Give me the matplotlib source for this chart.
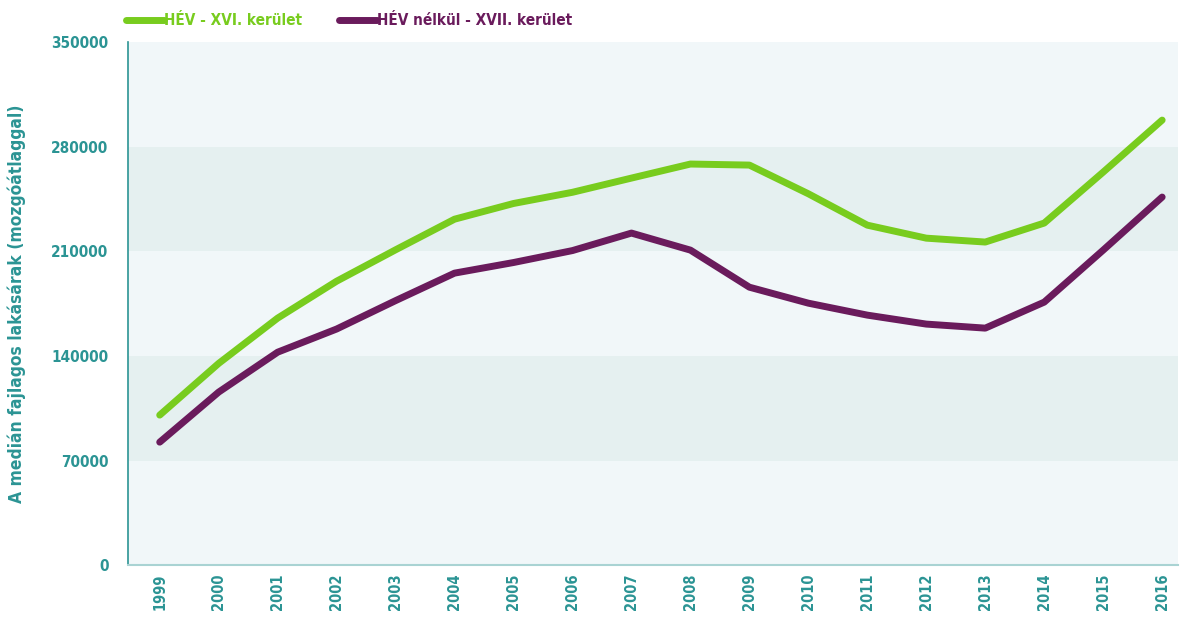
import matplotlib
matplotlib.use("Agg")
import matplotlib.pyplot as plt
from matplotlib import font_manager

years = list(range(1999, 2017))
hev_xvi = [100400, 135000, 165300, 190000, 211000, 231500, 242000, 249500, 259000,
           268400, 267700, 248500, 227500, 218800, 216200, 228900, 263000, 297800]
nohev_xvii = [82300, 115800, 142500, 158000, 177000, 195400, 202500, 210500, 222200,
              210800, 186000, 175300, 167300, 161300, 158600, 176000, 210800, 246300]
series_labels = ["HÉV - XVI. kerület", "HÉV nélkül - XVII. kerület"]
y_ticks = [0, 70000, 140000, 210000, 280000, 350000]

GREEN = "#78cc1e"
PURPLE = "#6a1b5c"
TEAL = "#2b9494"

# narrow bold face for all text
fp = font_manager.FontProperties(family="DejaVu Sans", stretch="condensed", weight="bold")
font_file = font_manager.findfont(fp)


def font(size):
    return font_manager.FontProperties(fname=font_file, size=size)


fig = plt.figure(figsize=(11.84, 6.19), dpi=100)
ax = fig.add_axes([0.108, 0.087, 0.887, 0.845])
ax.set_facecolor("#f1f7f9")

# shaded horizontal bands
for lo, hi in [(70000, 140000), (210000, 280000)]:
    ax.axhspan(lo, hi, color="#e5f0f0", zorder=0, lw=0)

ax.plot(years, hev_xvi, color=GREEN, lw=5, solid_capstyle="round", label=series_labels[0], zorder=3)
ax.plot(years, nohev_xvii, color=PURPLE, lw=5, solid_capstyle="round", label=series_labels[1], zorder=3)

ax.set_xlim(1998.46, 2016.27)
ax.set_ylim(0, 350000)
ax.set_xticks(years)
ax.set_xticklabels([str(y) for y in years], rotation=90, color=TEAL, fontproperties=font(10.5))
ax.set_yticks(y_ticks)
ax.set_yticklabels([str(v) for v in y_ticks], color=TEAL, fontproperties=font(11))
ax.tick_params(axis="both", length=0)
ax.tick_params(axis="y", pad=14)
ax.tick_params(axis="x", pad=6)

for side in ["top", "right"]:
    ax.spines[side].set_visible(False)
ax.spines["left"].set_color(TEAL)
ax.spines["left"].set_linewidth(1.2)
ax.spines["bottom"].set_color("#a9d3d3")
ax.spines["bottom"].set_linewidth(1.5)

ax.set_ylabel("A medián fajlagos lakásárak (mozgóátlaggal)", color=TEAL, fontproperties=font(12.5))
ax.yaxis.set_label_coords(-0.097, 0.5)

leg = ax.legend(loc="lower left", bbox_to_anchor=(-0.002, 1.027), ncol=2, frameon=False,
                borderpad=0, borderaxespad=0,
                handlelength=2.5, handletextpad=0.0, columnspacing=2.4, prop=font(11))
for text, c in zip(leg.get_texts(), [GREEN, PURPLE]):
    text.set_color(c)
for line in leg.get_lines():
    line.set_linewidth(5)

fig.savefig("out.png", dpi=100, facecolor="white")
